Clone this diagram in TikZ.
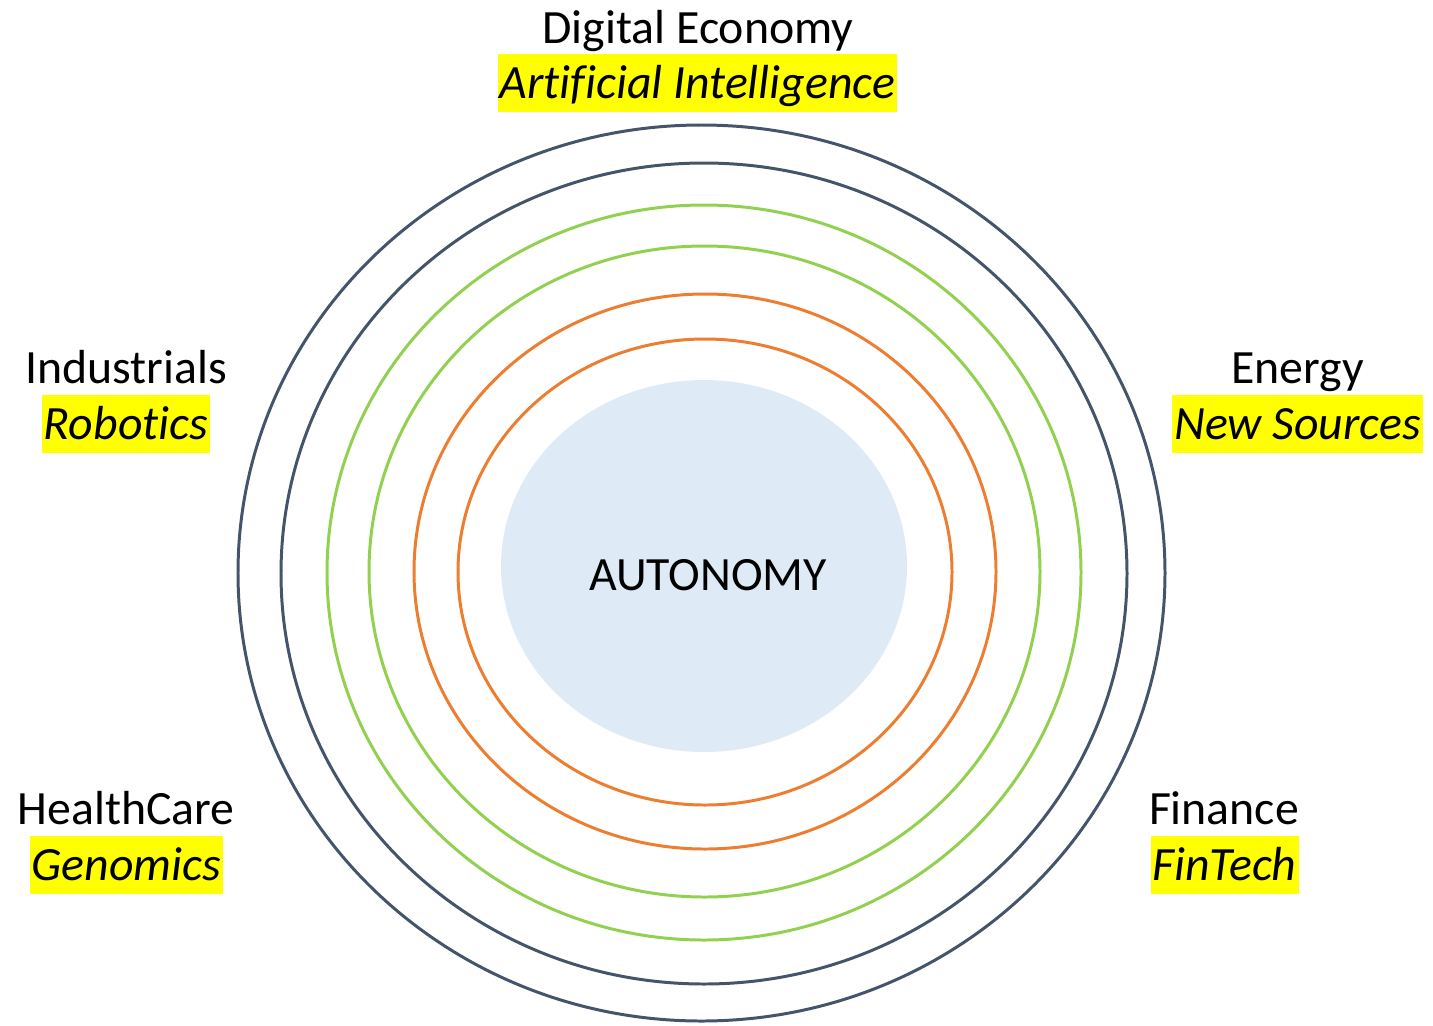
\documentclass[tikz,border=0pt]{standalone}
\usepackage{fontspec}
\setmainfont{Carlito}[Ligatures=CommonOff]
\usetikzlibrary{positioning}
\definecolor{ringnavy}{HTML}{44546A}
\definecolor{ringgreen}{HTML}{92D050}
\definecolor{ringorange}{HTML}{ED7D31}
\definecolor{corefill}{HTML}{DEEBF7}
\definecolor{hlyellow}{HTML}{FFFF00}
\begin{document}
\begin{tikzpicture}[x=0.02cm,y=-0.02cm,
  ring/.style={line width=1.7pt},
  sector/.style={anchor=base,inner sep=0pt,font=\fontsize{27.2}{32}\selectfont},
  tech/.style={anchor=base,inner xsep=0.04cm,inner ysep=0pt,fill=hlyellow,
    text height=0.88cm,text depth=0.28cm,font=\fontsize{27.2}{32}\selectfont\itshape}]
  \useasboundingbox (0,0) rectangle (1433,1025);
  % rings, outside in
  \draw[ring,ringnavy] (701.5,573) ellipse [x radius=463.5,y radius=448];
  \draw[ring,ringnavy] (704,573.5) ellipse [x radius=423,y radius=410.5];
  \draw[ring,ringgreen] (704,572.5) ellipse [x radius=377,y radius=367.5];
  \draw[ring,ringgreen] (704.5,571.5) ellipse [x radius=335.5,y radius=325.5];
  \draw[ring,ringorange] (705,571.5) ellipse [x radius=291,y radius=277.5];
  \draw[ring,ringorange] (705,572) ellipse [x radius=247,y radius=233];
  \fill[corefill] (704,566) ellipse [x radius=203,y radius=186];
  \node[sector] (autonomy) at (708,590) {AUTONOMY};
  % sectors
  \node[sector] (digital) at (698,43) {Digital Economy};
  \node[tech] (ai) at (697.5,98) {Artificial Intelligence};
  \node[sector] (industrials) at (126,383) {Industrials};
  \node[tech] (robotics) at (126,439) {Robotics};
  \node[sector] (energy) at (1297.5,383) {Energy};
  \node[tech] (newsources) at (1297.5,439) {New Sources};
  \node[sector] (healthcare) at (126,824) {HealthCare};
  \node[tech] (genomics) at (126.5,880) {Genomics};
  \node[sector] (finance) at (1224,824) {Finance};
  \node[tech] (fintech) at (1224.5,880) {FinTech};
\end{tikzpicture}
\end{document}
